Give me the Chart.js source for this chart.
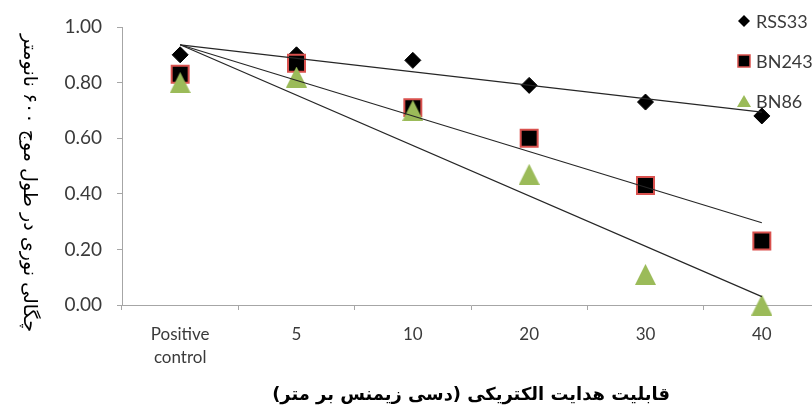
<!DOCTYPE html>
<html>
<head>
<meta charset="utf-8">
<script src="https://cdn.jsdelivr.net/npm/chart.js@4.4.1/dist/chart.umd.min.js"></script>
<style>
    html, body { margin: 0; padding: 0; background: #fff; overflow: hidden; }
    #wrap { width: 880px; height: 410px; position: relative; }
</style>
</head>
<body>
<div id="wrap"><canvas id="odChart"></canvas></div>
<script>
// Categories (EC, dS/m)
const categories = [['Positive', 'control'], '5', '10', '20', '30', '40'];

// Measured OD600 per strain
const rss33 = [0.90, 0.90, 0.88, 0.79, 0.73, 0.68];
const bn243 = [0.83, 0.87, 0.71, 0.60, 0.43, 0.23];
const bn86 = [0.80, 0.82, 0.70, 0.47, 0.11, 0.00];

// Trendline end values (first and last category)
const rss33Trend = [0.936, null, null, null, null, 0.694];
const bn243Trend = [0.936, null, null, null, null, 0.296];
const bn86Trend = [0.936, null, null, null, null, 0.030];

const seriesNames = ['RSS33', 'BN243', 'BN86'];
const yTicks = [0, 0.2, 0.4, 0.6, 0.8, 1.0];

const yTitle = 'چگالی نوری در طول موج ۶۰۰ نانومتر';
const xTitle = 'قابلیت هدایت الکتریکی (دسی زیمنس بر متر)';

const GREEN = '#9bbb59';
const RED = '#d9514e';
const AXIS = '#a6a6a6';
const TEXT = '#3a3a3a';

function trendSet(data) {
    return {
        data: data,
        spanGaps: true,
        borderColor: '#262626',
        borderWidth: 1.2,
        pointRadius: 0,
        fill: false,
        order: 0,
        clip: false
    };
}

// Excel-like triangle marker (as tall as it is wide, centred on its box)
function makeTriangle(size, color) {
    const c = document.createElement('canvas');
    c.width = size;
    c.height = size;
    const g = c.getContext('2d');
    g.fillStyle = color;
    g.beginPath();
    g.moveTo(size / 2, 0);
    g.lineTo(size, size);
    g.lineTo(0, size);
    g.closePath();
    g.fill();
    return c;
}
const triangleMarker = makeTriangle(21, GREEN);

// Fit text into a given width
function fitFont(ctx, text, weight, family, baseSize, targetWidth) {
    ctx.font = `${weight} ${baseSize}px ${family}`;
    const w = ctx.measureText(text).width;
    const size = baseSize * targetWidth / w;
    ctx.font = `${weight} ${size}px ${family}`;
}

// Titles and legend drawn on top of the chart
const overlayPlugin = {
    id: 'overlay',
    afterDraw(chart) {
        const ctx = chart.ctx;
        const area = chart.chartArea;
        ctx.save();
        ctx.fillStyle = '#000';
        ctx.textAlign = 'center';
        ctx.textBaseline = 'middle';

        // y title, rotated clockwise
        ctx.save();
        ctx.translate(29, (area.top + area.bottom) / 2 + 17);
        ctx.rotate(Math.PI / 2);
        fitFont(ctx, yTitle, 'normal', '"DejaVu Sans"', 16, 298);
        ctx.fillText(yTitle, 0, 0);
        ctx.restore();

        // x title
        fitFont(ctx, xTitle, 'bold', '"DejaVu Sans"', 20, 398);
        ctx.fillText(xTitle, (area.left + area.right) / 2, 395);

        // legend
        const lx = 744;
        const ly = [21, 61, 101];
        // diamond
        ctx.fillStyle = '#000';
        ctx.beginPath();
        ctx.moveTo(lx, ly[0] - 6);
        ctx.lineTo(lx + 6, ly[0]);
        ctx.lineTo(lx, ly[0] + 6);
        ctx.lineTo(lx - 6, ly[0]);
        ctx.closePath();
        ctx.fill();
        // square
        ctx.fillRect(lx - 6, ly[1] - 6, 12, 12);
        ctx.strokeStyle = RED;
        ctx.lineWidth = 1.5;
        ctx.strokeRect(lx - 6, ly[1] - 6, 12, 12);
        // triangle
        ctx.fillStyle = GREEN;
        ctx.beginPath();
        ctx.moveTo(lx, ly[2] - 6);
        ctx.lineTo(lx + 7, ly[2] + 6);
        ctx.lineTo(lx - 7, ly[2] + 6);
        ctx.closePath();
        ctx.fill();

        ctx.fillStyle = TEXT;
        ctx.textAlign = 'left';
        ctx.font = '18px Lato';
        seriesNames.forEach((name, i) => {
            ctx.fillText(name, 756, ly[i] + 1);
        });
        ctx.restore();
    }
};

const ctx = document.getElementById('odChart').getContext('2d');
new Chart(ctx, {
    type: 'line',
    data: {
        labels: categories,
        datasets: [
            trendSet(rss33Trend),
            trendSet(bn243Trend),
            trendSet(bn86Trend),
            {
                label: seriesNames[2],
                data: bn86,
                showLine: false,
                pointStyle: triangleMarker,
                pointRadius: 11,
                order: 1,
                clip: false
            },
            {
                label: seriesNames[1],
                data: bn243,
                showLine: false,
                pointStyle: 'rect',
                pointRadius: 12,
                pointBackgroundColor: '#000',
                pointBorderColor: RED,
                pointBorderWidth: 2,
                order: 2,
                clip: false
            },
            {
                label: seriesNames[0],
                data: rss33,
                showLine: false,
                pointStyle: 'rectRot',
                pointRadius: 8,
                pointBackgroundColor: '#000',
                pointBorderColor: '#000',
                pointBorderWidth: 1,
                order: 3,
                clip: false
            }
        ]
    },
    options: {
        responsive: true,
        maintainAspectRatio: false,
        animation: false,
        events: [],
        layout: {
            padding: { top: 27, left: 0, right: 60, bottom: 0 }
        },
        plugins: {
            legend: { display: false },
            tooltip: { enabled: false }
        },
        scales: {
            x: {
                type: 'category',
                offset: true,
                grid: {
                    display: true,
                    drawOnChartArea: false,
                    drawTicks: true,
                    tickLength: 5,
                    color: AXIS,
                    offset: true
                },
                border: { display: true, color: AXIS, width: 1 },
                ticks: {
                    color: TEXT,
                    padding: 13,
                    maxRotation: 0,
                    autoSkip: false,
                    font: { family: 'Lato', size: 17, lineHeight: 1.35 }
                },
                afterFit(scale) { scale.height = 105; }
            },
            y: {
                min: 0,
                max: 1,
                afterBuildTicks(scale) {
                    scale.ticks = yTicks.map(v => ({ value: v }));
                },
                grid: {
                    display: true,
                    drawOnChartArea: false,
                    drawTicks: true,
                    tickLength: 5,
                    color: AXIS
                },
                border: { display: true, color: AXIS, width: 1 },
                ticks: {
                    color: TEXT,
                    padding: 15,
                    font: { family: 'Lato', size: 19 },
                    callback: function(value) {
                        return Number(value).toFixed(2);
                    }
                },
                afterFit(scale) { scale.width = 122; }
            }
        }
    },
    plugins: [overlayPlugin]
});
</script>
</body>
</html>
